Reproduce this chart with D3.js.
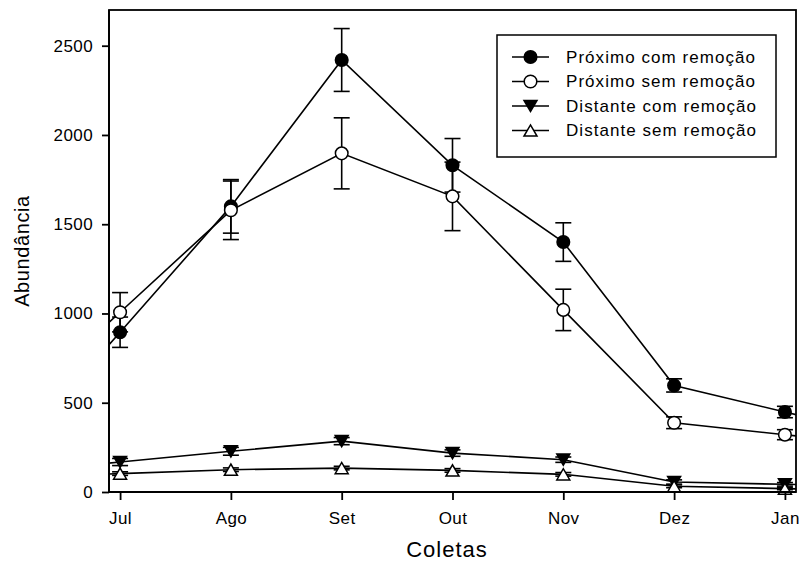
<!DOCTYPE html>
<html>
<head>
<meta charset="utf-8">
<script src="https://cdn.jsdelivr.net/npm/d3@7"></script>
<style>
  html, body { margin: 0; padding: 0; background: #fff; }
  svg { display: block; }
  text { font-family: "Liberation Sans", Arial, sans-serif; fill: #000; }
</style>
</head>
<body>
<div id="chart"></div>
<script>
// ---- data ----
const months = ["Jul", "Ago", "Set", "Out", "Nov", "Dez", "Jan"];
const yTicks = [0, 500, 1000, 1500, 2000, 2500];

const seriesNames = ["Próximo com remoção", "Próximo sem remoção", "Distante com remoção", "Distante sem remoção"];
const proxComValues = [895, 1600, 2420, 1830, 1400, 597, 448];
const proxComErr    = [85, 150, 176, 150, 108, 37, 32];
const proxSemValues = [1007, 1578, 1897, 1656, 1020, 388, 321];
const proxSemErr    = [110, 164, 199, 192, 116, 33, 28];
const distComValues = [168, 228, 285, 218, 181, 56, 43];
const distComErr    = [20, 22, 20, 18, 15, 12, 10];
const distSemValues = [103, 125, 134, 121, 99, 32, 19];
const distSemErr    = [10, 10, 10, 10, 10, 8, 6];

const series = [
  { name: seriesNames[0], values: proxComValues, err: proxComErr, marker: "circleFilled" },
  { name: seriesNames[1], values: proxSemValues, err: proxSemErr, marker: "circleOpen" },
  { name: seriesNames[2], values: distComValues, err: distComErr, marker: "triDown" },
  { name: seriesNames[3], values: distSemValues, err: distSemErr, marker: "triUp" }
];

// ---- layout ----
const W = 801, H = 570;
const L = 109, R = 796, T = 10, B = 492;
const pad = 0.1;

const svg = d3.select("#chart").append("svg").attr("width", W).attr("height", H);

const x = d3.scaleLinear().domain([-pad, months.length - 1 + pad]).range([L, R]);
const y = d3.scaleLinear().domain([0, 2700]).range([B, T]);

svg.append("defs").append("clipPath").attr("id", "plotclip")
  .append("rect").attr("x", L).attr("y", T).attr("width", R - L).attr("height", B - T);

// lines (continuing to the frame edges along the end segments)
const lineGen = d3.line().x(d => x(d[0])).y(d => y(d[1]));
const gLines = svg.append("g").attr("clip-path", "url(#plotclip)");
series.forEach(s => {
  const v = s.values, n = v.length;
  const pts = v.map((val, i) => [i, val]);
  const first = [-pad - 0.05, v[0] - (v[1] - v[0]) * (pad + 0.05)];
  const last = [n - 1 + pad + 0.05, v[n - 1] + (v[n - 1] - v[n - 2]) * (pad + 0.05)];
  gLines.append("path")
    .attr("d", lineGen([first, ...pts, last]))
    .attr("fill", "none").attr("stroke", "#000").attr("stroke-width", 1.6);
});

// error bars
const cap = 8;
const gErr = svg.append("g").attr("stroke", "#000").attr("stroke-width", 1.6);
series.forEach(s => {
  s.values.forEach((val, i) => {
    const cx = x(i), hi = y(val + s.err[i]), lo = y(val - s.err[i]);
    gErr.append("line").attr("x1", cx).attr("x2", cx).attr("y1", hi).attr("y2", lo);
    gErr.append("line").attr("x1", cx - cap).attr("x2", cx + cap).attr("y1", hi).attr("y2", hi);
    gErr.append("line").attr("x1", cx - cap).attr("x2", cx + cap).attr("y1", lo).attr("y2", lo);
  });
});

// markers
function drawMarker(g, type, cx, cy) {
  if (type === "circleFilled" || type === "circleOpen") {
    g.append("circle").attr("cx", cx).attr("cy", cy).attr("r", 6.3)
      .attr("fill", type === "circleFilled" ? "#000" : "#fff")
      .attr("stroke", "#000").attr("stroke-width", 1.5);
  } else {
    const hw = 6.5, hh = 5.6;
    const d = type === "triDown"
      ? `M${cx - hw},${cy - hh}L${cx + hw},${cy - hh}L${cx},${cy + hh}Z`
      : `M${cx - hw},${cy + hh}L${cx + hw},${cy + hh}L${cx},${cy - hh}Z`;
    g.append("path").attr("d", d)
      .attr("fill", type === "triDown" ? "#000" : "#fff")
      .attr("stroke", "#000").attr("stroke-width", 1.5).attr("stroke-linejoin", "miter");
  }
}
const gMk = svg.append("g");
series.forEach(s => s.values.forEach((val, i) => drawMarker(gMk, s.marker, x(i), y(val))));

// frame
svg.append("rect").attr("x", L).attr("y", T).attr("width", R - L).attr("height", B - T)
  .attr("fill", "none").attr("stroke", "#000").attr("stroke-width", 1.8);

// axes
const yAxis = d3.axisLeft(y).tickValues(yTicks).tickSize(7).tickPadding(9).tickFormat(d3.format("d"));
const gy = svg.append("g").attr("transform", `translate(${L},0)`).call(yAxis);
const xAxis = d3.axisBottom(x).tickValues(d3.range(months.length)).tickSize(8).tickPadding(12)
  .tickFormat(i => months[i]);
const gx = svg.append("g").attr("transform", `translate(0,${B})`).call(xAxis);
[gy, gx].forEach(g => {
  g.select(".domain").remove();
  g.selectAll(".tick line").attr("stroke", "#000").attr("stroke-width", 1.8);
  g.selectAll(".tick text").style("font-size", "17px").style("letter-spacing", "0.4px")
    .attr("fill", "#000");
});
svg.append("line").attr("x1", L).attr("x2", L).attr("y1", T).attr("y2", B).attr("stroke", "#000").attr("stroke-width", 1.8);
svg.append("line").attr("x1", L).attr("x2", R).attr("y1", B).attr("y2", B).attr("stroke", "#000").attr("stroke-width", 1.8);

// axis titles
svg.append("text").attr("x", 447).attr("y", 557).attr("text-anchor", "middle")
  .style("font-size", "22px").style("letter-spacing", "1px").text("Coletas");
svg.append("text").attr("transform", `translate(29,${(T + B) / 2}) rotate(-90)`).attr("text-anchor", "middle")
  .style("font-size", "20px").style("letter-spacing", "0.6px").text("Abundância");

// legend
const lg = svg.append("g");
lg.append("rect").attr("x", 497).attr("y", 35).attr("width", 279).attr("height", 122)
  .attr("fill", "#fff").attr("stroke", "#000").attr("stroke-width", 1.5);
const legY = [57, 81.5, 106, 130.5];
series.forEach((s, k) => {
  const yy = legY[k];
  lg.append("line").attr("x1", 512).attr("x2", 549).attr("y1", yy).attr("y2", yy)
    .attr("stroke", "#000").attr("stroke-width", 1.6);
  drawMarker(lg, s.marker, 530.5, yy);
  lg.append("text").attr("x", 566).attr("y", yy).attr("dy", "0.35em")
    .style("font-size", "17px").style("letter-spacing", "1.05px").text(s.name);
});
</script>
</body>
</html>
